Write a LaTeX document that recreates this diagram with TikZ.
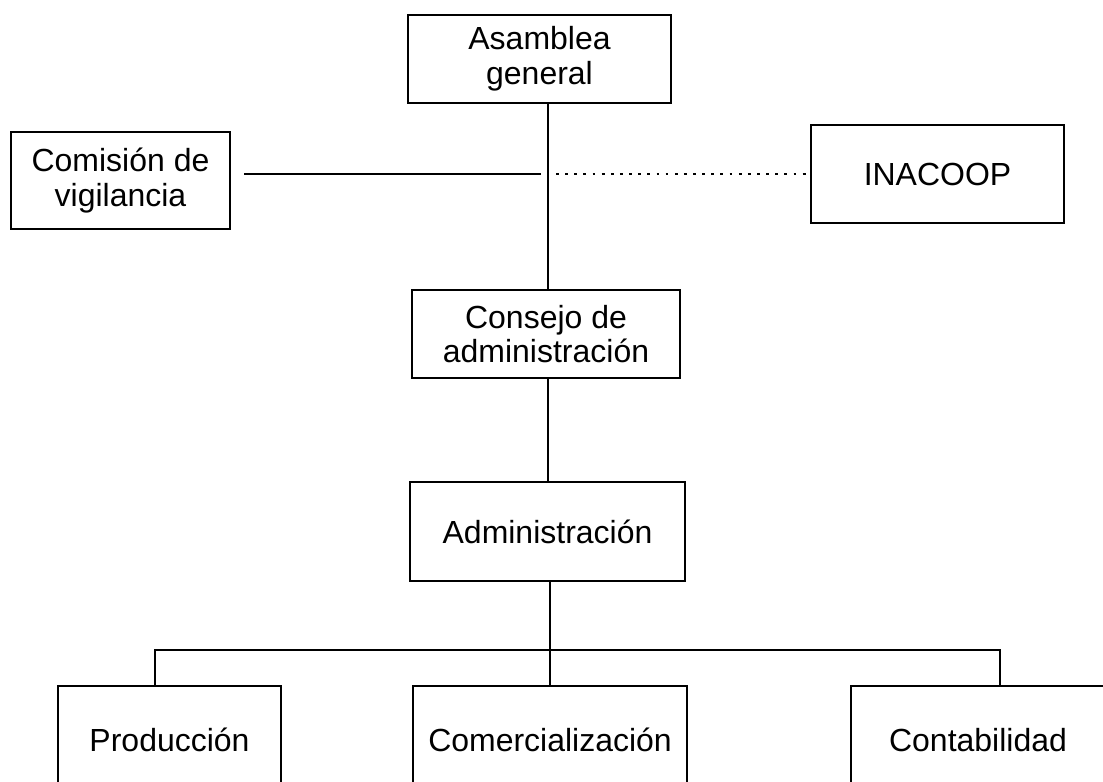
\documentclass[tikz,border=0pt]{standalone}
\usepackage{fontspec}
\setmainfont{Liberation Sans}
\usetikzlibrary{calc}
\tikzset{
  caja/.style={draw=black, line width=0.8pt, rectangle, inner sep=0pt, align=center, font=\fontsize{9.1}{9.9}\selectfont},
  linea/.style={black, line width=0.65pt},
  puntos/.style={black, line width=0.8pt, dash pattern=on 0.8pt off 1.8pt}
}
\begin{document}
\begin{tikzpicture}
\useasboundingbox (0,0) rectangle (11.03,-7.81);
\node[caja, minimum width=2.63cm, minimum height=0.88cm] (asamblea) at (5.395,-0.59) {Asamblea\\general};
\node[caja, minimum width=2.19cm, minimum height=0.97cm] (comision) at (1.205,-1.805) {Comisión de\\vigilancia};
\node[caja, minimum width=2.53cm, minimum height=0.98cm] (inacoop) at (9.375,-1.74) {INACOOP};
\node[caja, minimum width=2.68cm, minimum height=0.88cm] (consejo) at (5.46,-3.34) {Consejo de\\administración};
\node[caja, minimum width=2.75cm, minimum height=0.99cm] (admin) at (5.475,-5.315) {Administración};
\node[caja, minimum width=2.23cm, minimum height=1.08cm] (produccion) at (1.695,-7.40) {Producción};
\node[caja, minimum width=2.74cm, minimum height=1.08cm] (comercial) at (5.50,-7.40) {Comercialización};
\node[caja, minimum width=2.54cm, minimum height=1.08cm] (contabilidad) at (9.78,-7.40) {Contabilidad};
\coordinate (cruce) at (5.48,-1.74);
\coordinate (bus) at (5.50,-6.50);
\draw[linea] (asamblea.south -| cruce) -- (consejo.north -| cruce);
\draw[linea] ($(comision.east |- cruce)+(0.13,0)$) -- ($(cruce)+(-0.07,0)$);
\draw[puntos] ($(cruce)+(0.08,0)$) -- (inacoop.west |- cruce);
\draw[linea] (consejo.south -| cruce) -- (admin.north -| cruce);
\draw[linea] (admin.south -| bus) -- (comercial.north -| bus);
\draw[linea] ($(produccion.north)+(-0.145,0)$) |- (bus) -| ($(contabilidad.north)+(0.22,0)$);
\end{tikzpicture}
\end{document}
